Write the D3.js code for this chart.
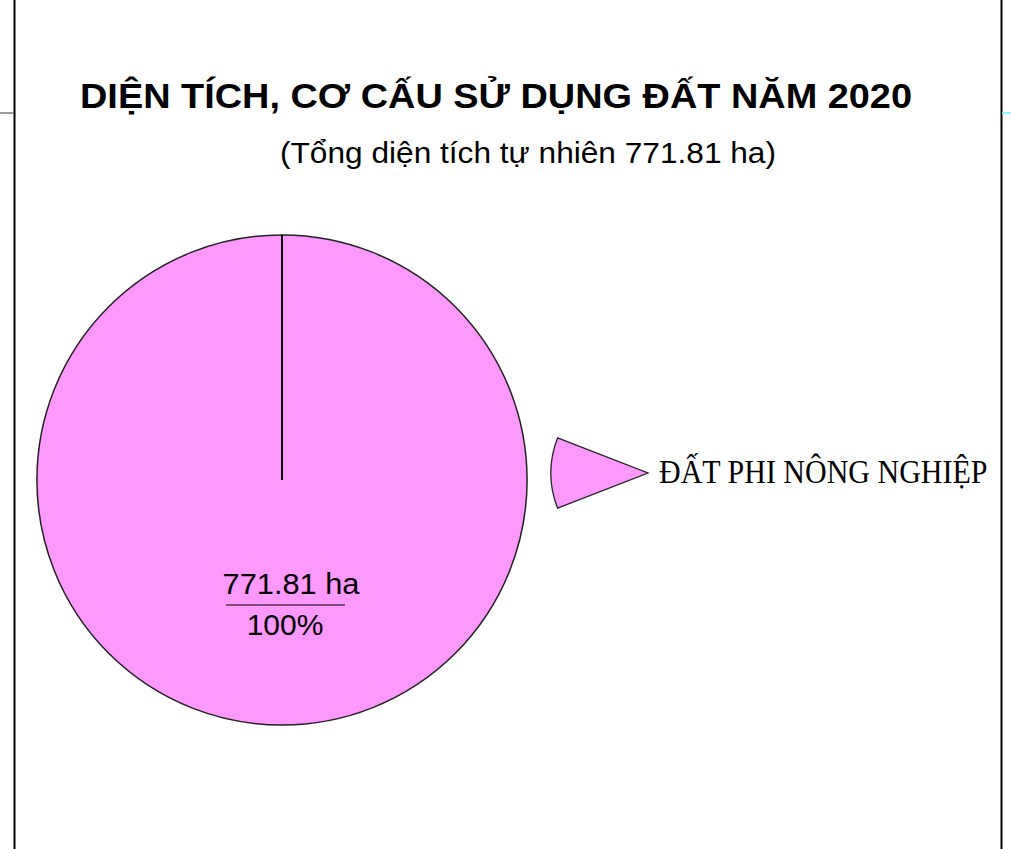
<!DOCTYPE html>
<html>
<head>
<meta charset="utf-8">
<script src="https://cdn.jsdelivr.net/npm/d3@7"></script>
<style>
  body { margin: 0; background: #fff; }
  svg { display: block; }
</style>
</head>
<body>
<div id="chart"></div>
<script>
// chart data
const title = "DIỆN TÍCH, CƠ CẤU SỬ DỤNG ĐẤT NĂM 2020";
const subtitle = "(Tổng diện tích tự nhiên 771.81 ha)";
const categories = ["ĐẤT PHI NÔNG NGHIỆP"];
const areas = [771.81];
const percents = [100];
const colors = ["#ff99ff"];

const W = 1011, H = 849;

const svg = d3.select("#chart")
  .append("svg")
  .attr("width", W)
  .attr("height", H);

// page frame lines
svg.append("line").attr("x1", 14.5).attr("x2", 14.5).attr("y1", 0).attr("y2", H)
  .attr("stroke", "#000").attr("stroke-width", 2);
svg.append("line").attr("x1", 0).attr("x2", 14).attr("y1", 113).attr("y2", 113)
  .attr("stroke", "#777").attr("stroke-width", 1.5);
svg.append("line").attr("x1", 1001.5).attr("x2", 1001.5).attr("y1", 0).attr("y2", H)
  .attr("stroke", "#000").attr("stroke-width", 2);
svg.append("line").attr("x1", 1002).attr("x2", W).attr("y1", 113).attr("y2", 113)
  .attr("stroke", "#66ffff").attr("stroke-width", 1.5);

// titles (the source text is drawn a bit wider than the font)
svg.append("text")
  .attr("x", 80).attr("y", 108)
  .attr("textLength", 832)
  .attr("lengthAdjust", "spacingAndGlyphs")
  .style("font-family", "'Liberation Sans', Arial, sans-serif")
  .style("font-weight", "bold")
  .style("font-size", "35px")
  .text(title);

svg.append("text")
  .attr("x", 280).attr("y", 163)
  .attr("textLength", 496)
  .attr("lengthAdjust", "spacingAndGlyphs")
  .style("font-family", "'Liberation Sans', Arial, sans-serif")
  .style("font-size", "29px")
  .text(subtitle);

// pie
const cx = 282, cy = 480, radius = 245;
const pie = d3.pie().sort(null)(areas);
const arc = d3.arc().innerRadius(0).outerRadius(radius);

const g = svg.append("g").attr("transform", `translate(${cx},${cy})`);

g.selectAll("path.slice")
  .data(pie)
  .enter()
  .append("path")
    .attr("class", "slice")
    .attr("d", arc)
    .attr("fill", (d, i) => colors[i])
    .attr("stroke", "#222")
    .attr("stroke-width", 1.5);

// slice boundary line (start of each slice)
g.selectAll("line.edge")
  .data(pie)
  .enter()
  .append("line")
    .attr("class", "edge")
    .attr("x1", 0).attr("y1", 0)
    .attr("x2", d => d3.pointRadial(d.startAngle, radius)[0])
    .attr("y2", d => d3.pointRadial(d.startAngle, radius)[1])
    .attr("stroke", "#000")
    .attr("stroke-width", 2);

// value label: area over percent
const lab = g.selectAll("g.lab")
  .data(pie)
  .enter()
  .append("g")
    .attr("class", "lab")
    .attr("transform", "translate(3,125)");

lab.append("text")
  .attr("x", 6).attr("y", -11)
  .attr("text-anchor", "middle")
  .attr("textLength", 137)
  .attr("lengthAdjust", "spacingAndGlyphs")
  .style("font-family", "'Liberation Sans', Arial, sans-serif")
  .style("font-size", "30px")
  .text((d, i) => d3.format(".2f")(areas[i]) + " ha");

lab.append("line")
  .attr("x1", -59).attr("x2", 60).attr("y1", 0).attr("y2", 0)
  .attr("stroke", "#000").attr("stroke-width", 1.2);

lab.append("text")
  .attr("x", 0).attr("y", 30)
  .attr("text-anchor", "middle")
  .style("font-family", "'Liberation Sans', Arial, sans-serif")
  .style("font-size", "30px")
  .text((d, i) => percents[i] + "%");

// legend
const legend = svg.selectAll("g.legend")
  .data(categories)
  .enter()
  .append("g")
    .attr("class", "legend")
    .attr("transform", (d, i) => `translate(648,${473 + i * 80})`);

const legArc = d3.arc()
  .innerRadius(0).outerRadius(97)
  .startAngle(-Math.PI / 2 - 0.37)
  .endAngle(-Math.PI / 2 + 0.37);

legend.append("path")
  .attr("d", legArc)
  .attr("fill", (d, i) => colors[i])
  .attr("stroke", "#222")
  .attr("stroke-width", 1.3);

// legend label, a little taller than the plain font
legend.append("text")
  .attr("transform", "translate(11,10) scale(1,1.1)")
  .style("font-family", "'Liberation Serif', 'Times New Roman', serif")
  .style("font-size", "30px")
  .text(d => d);
</script>
</body>
</html>
